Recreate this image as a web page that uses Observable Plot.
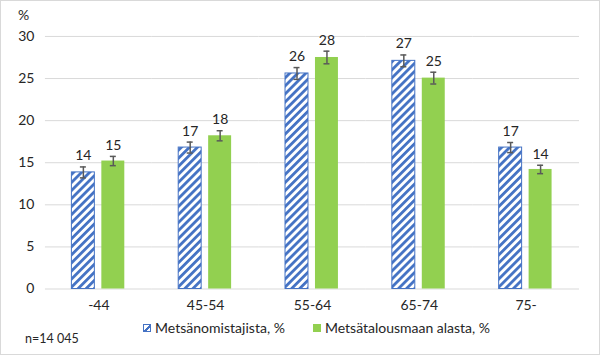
<!DOCTYPE html>
<html>
<head>
<meta charset="utf-8">
<script src="https://cdn.jsdelivr.net/npm/d3@7"></script>
<script src="https://cdn.jsdelivr.net/npm/@observablehq/plot@0.6"></script>
<style>
  html, body { margin: 0; padding: 0; background: #fff; }
  #wrap { position: relative; width: 600px; height: 355px; box-sizing: border-box; border: 1px solid #d9d9d9; font-family: Lato, "Liberation Sans", sans-serif; color: #262626; overflow: hidden; }
  #chart { position: absolute; left: -1px; top: -1px; }
  #pct { position: absolute; left: 17px; top: 5px; font-size: 14px; }
  .sw { position: absolute; width: 8px; height: 8px; box-sizing: border-box; }
  .lt { position: absolute; font-size: 14px; white-space: nowrap; line-height: 16px; }
  #caption { position: absolute; left: 24px; top: 330px; font-size: 12.5px; }
</style>
</head>
<body>
<div id="wrap">
  <div id="chart"></div>
  <div id="pct">%</div>
  <div id="legend"></div>
  <div id="caption">n=14 045</div>
</div>
<script>
const categories = ["-44", "45-54", "55-64", "65-74", "75-"];
const seriesNames = ["Metsänomistajista, %", "Metsätalousmaan alasta, %"];
const ownersValues = [13.85, 16.8, 25.6, 27.1, 16.8];
const areaValues = [15.2, 18.2, 27.5, 25.05, 14.2];
const ownersErr = [0.65, 0.65, 0.7, 0.7, 0.6];
const areaErr = [0.55, 0.6, 0.75, 0.7, 0.5];
const ownersLabels = ["14", "17", "26", "27", "17"];
const areaLabels = ["15", "18", "28", "25", "14"];
const yTicks = [0, 5, 10, 15, 20, 25, 30];

const blue = "#4472C4";
const green = "#92D050";

const owners = categories.map((c, i) => ({cat: c, s: seriesNames[0], v: ownersValues[i], e: ownersErr[i], t: ownersLabels[i]}));
const area = categories.map((c, i) => ({cat: c, s: seriesNames[1], v: areaValues[i], e: areaErr[i], t: areaLabels[i]}));
const all = owners.concat(area);

const plot = Plot.plot({
  width: 600,
  height: 320,
  marginLeft: 42.5,
  marginRight: 18,
  marginTop: 36,
  marginBottom: 31,
  style: {fontFamily: "Lato, 'Liberation Sans', sans-serif", fontSize: "14px", color: "#262626", background: "transparent"},
  fx: {domain: categories, padding: 0, label: null, axis: "bottom", tickSize: 0, tickPadding: 11},
  x: {domain: seriesNames, axis: null, paddingInner: 0.218, paddingOuter: 0.87},
  y: {domain: [0, 30], ticks: yTicks, grid: false, label: null, tickSize: 0, tickPadding: 11},
  marks: [
    Plot.gridY(yTicks, {stroke: "#d9d9d9", strokeOpacity: 1, strokeWidth: 1}),
    Plot.barY(owners, {fx: "cat", x: "s", y: "v", fill: "url(#hatch)", stroke: blue, strokeWidth: 1}),
    Plot.barY(area, {fx: "cat", x: "s", y: "v", fill: green}),
    Plot.ruleX(all, {fx: "cat", x: "s", y1: d => d.v - d.e, y2: d => d.v + d.e, stroke: "#595959", strokeWidth: 1.5}),
    Plot.tickY(all, {fx: "cat", x: "s", y: d => d.v + d.e, stroke: "#595959", strokeWidth: 1.5, insetLeft: 8.5, insetRight: 8.5}),
    Plot.tickY(all, {fx: "cat", x: "s", y: d => d.v - d.e, stroke: "#595959", strokeWidth: 1.5, insetLeft: 8.5, insetRight: 8.5}),
    Plot.text(all, {fx: "cat", x: "s", y: d => d.v + d.e, text: "t", dy: -11, fontSize: 14, fill: "#262626"})
  ]
});

const defs = d3.select(plot).insert("defs", ":first-child");
const pat = defs.append("pattern")
  .attr("id", "hatch")
  .attr("patternUnits", "userSpaceOnUse")
  .attr("width", 5.7).attr("height", 5.7)
  .attr("patternTransform", "rotate(45)");
pat.append("rect").attr("width", 5.7).attr("height", 5.7).attr("fill", "white");
pat.append("rect").attr("width", 2.8).attr("height", 5.7).attr("fill", blue);

document.getElementById("chart").appendChild(plot);

// Legend (positions relative to wrap's padding box: page coordinate - 1)
const legend = d3.select("#legend");
const items = [
  {name: seriesNames[0], sx: 142, tx: 154, w: 130, style: `background: linear-gradient(135deg, #fff 45%, ${blue} 45%, ${blue} 70%, #fff 70%); border: 1px solid ${blue};`},
  {name: seriesNames[1], sx: 312, tx: 324, w: 165, style: `background: ${green};`}
];
items.forEach(it => {
  legend.append("div").attr("class", "sw").attr("style", it.style + `left:${it.sx}px; top:323px;`);
  const t = legend.append("div").attr("class", "lt").style("left", it.tx + "px").style("top", "319px").text(it.name);
  const node = t.node();
  const w = node.getBoundingClientRect().width;
  const n = it.name.length;
  const ls = (it.w - w) / n;
  t.style("letter-spacing", ls + "px");
});
</script>
</body>
</html>
